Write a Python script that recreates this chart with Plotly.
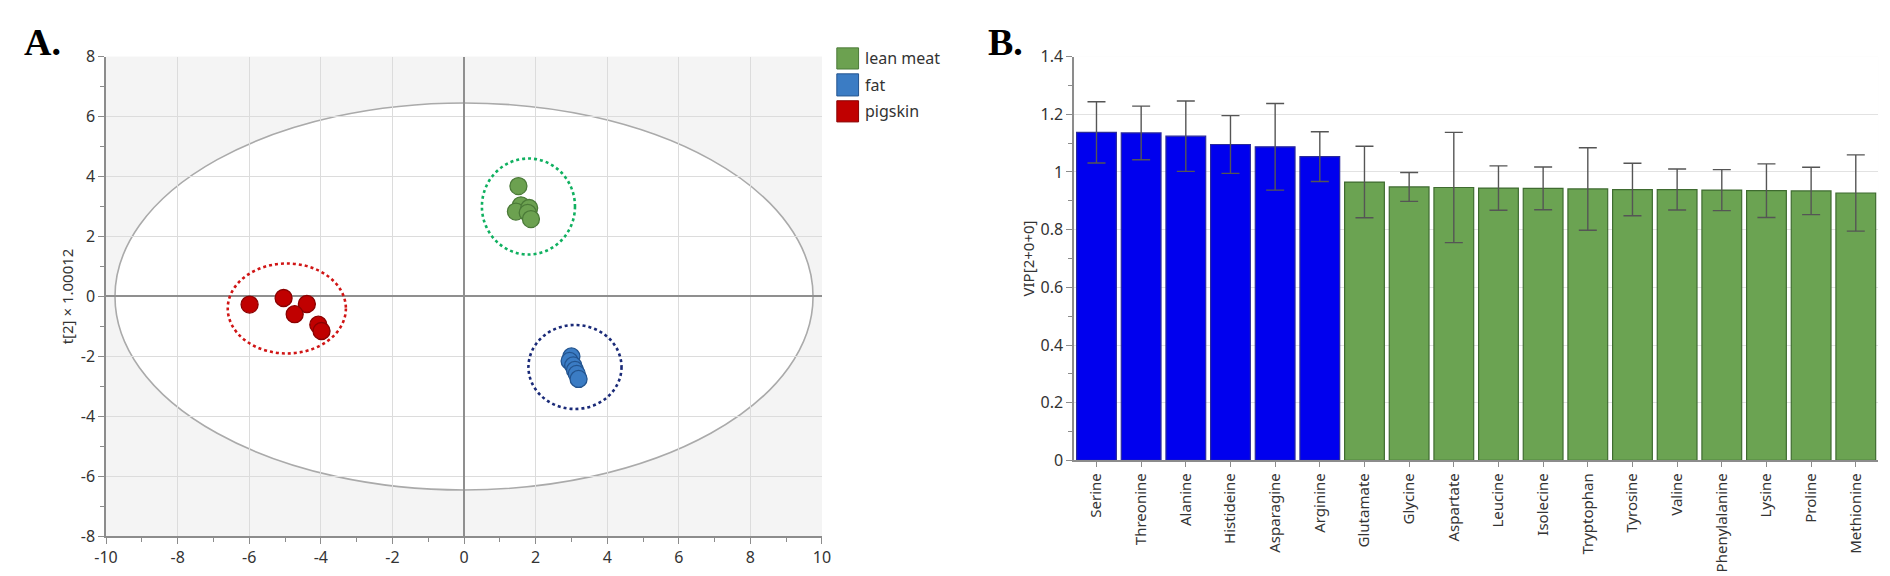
import plotly.graph_objects as go

W, H = 1890, 576

# ---- panel A: score plot -------------------------------------------------
lean_x = [1.52, 1.59, 1.45, 1.82, 1.78, 1.87]
lean_y = [3.68, 3.04, 2.83, 2.95, 2.79, 2.58]
fat_x = [3.00, 2.95, 3.05, 3.10, 3.15, 3.20]
fat_y = [-2.00, -2.15, -2.30, -2.45, -2.58, -2.75]
skin_x = [-5.99, -5.04, -4.39, -4.73, -4.07, -3.98]
skin_y = [-0.27, -0.05, -0.25, -0.59, -0.94, -1.15]

group_names = ["lean meat", "fat", "pigskin"]
group_cx = [1.80, 3.10, -4.95]
group_cy = [3.00, -2.35, -0.40]
group_rx = [1.30, 1.30, 1.65]
group_ry = [1.60, 1.40, 1.50]

t2_rx, t2_ry = 9.75, 6.45

a_ticks = [-10, -8, -6, -4, -2, 0, 2, 4, 6, 8, 10]
a_yticks = [-8, -6, -4, -2, 0, 2, 4, 6, 8]

# ---- panel B: VIP bars ---------------------------------------------------
amino = ["Serine", "Threonine", "Alanine", "Histideine", "Asparagine", "Arginine",
         "Glutamate", "Glycine", "Aspartate", "Leucine", "Isolecine", "Tryptophan",
         "Tyrosine", "Valine", "Phenylalanine", "Lysine", "Proline", "Methionine"]
vip = [1.137, 1.135, 1.124, 1.095, 1.087, 1.053,
       0.965, 0.948, 0.946, 0.944, 0.943, 0.941,
       0.939, 0.939, 0.937, 0.935, 0.934, 0.927]
vip_err = [0.106, 0.093, 0.122, 0.100, 0.150, 0.086,
           0.124, 0.050, 0.191, 0.077, 0.074, 0.143,
           0.091, 0.071, 0.071, 0.093, 0.082, 0.132]
n_blue = 6


def px(p):
    return p / W


def py(p):
    return 1 - p / H


font = "Noto Sans"
axis_col = "#8c8c8c"
txt_col = "#333333"

fills = ["#6ca150", "#3b7cc4", "#c00000"]
edges = ["#4b7a38", "#23548f", "#8a0000"]
ring_cols = ["#10b060", "#1a2a78", "#d01515"]

fig = go.Figure()

for xs, ys, fc, ec, nm in zip([lean_x, fat_x, skin_x], [lean_y, fat_y, skin_y],
                              fills, edges, group_names):
    fig.add_trace(go.Scatter(
        x=xs, y=ys, mode="markers", name=nm,
        marker=dict(size=17, color=fc, line=dict(color=ec, width=1.3)),
        xaxis="x", yaxis="y", showlegend=False
    ))

bar_fill = ["#0000ee"] * n_blue + ["#6ba352"] * (len(amino) - n_blue)
bar_edge = ["#2a2a9a"] * n_blue + ["#3f6b30"] * (len(amino) - n_blue)
fig.add_trace(go.Bar(
    x=amino, y=vip,
    marker=dict(color=bar_fill, line=dict(color=bar_edge, width=1.2)),
    error_y=dict(type="data", array=vip_err, visible=True,
                 color="#555555", thickness=1.4, width=9),
    xaxis="x2", yaxis="y2", showlegend=False
))

# white background for the bar panel (plot_bgcolor is shared)
fig.add_shape(type="rect", xref="x2 domain", yref="y2 domain",
              x0=0, x1=1, y0=0, y1=1, fillcolor="white",
              line=dict(width=0), layer="below")

# Hotelling ellipse (white inside, grey outside)
fig.add_shape(type="circle", xref="x", yref="y",
              x0=-t2_rx, x1=t2_rx, y0=-t2_ry, y1=t2_ry,
              fillcolor="white", line=dict(color="#aaaaaa", width=1.6),
              layer="below")

# dotted group rings
for cx, cy, rx, ry, col in zip(group_cx, group_cy, group_rx, group_ry, ring_cols):
    fig.add_shape(type="circle", xref="x", yref="y",
                  x0=cx - rx, x1=cx + rx, y0=cy - ry, y1=cy + ry,
                  line=dict(color=col, width=2.6, dash="dot"))

# manual legend with square swatches
rows = [(30, 52), (57, 80), (85, 107)]
for (t, b), fc, ec, nm in zip(rows, fills, edges, group_names):
    fig.add_shape(type="rect", xref="paper", yref="paper",
                  x0=px(826), x1=px(848), y0=py(b), y1=py(t),
                  fillcolor=fc, line=dict(color=ec, width=1))
    fig.add_annotation(xref="paper", yref="paper", x=px(852), y=py((t + b) / 2),
                       text=nm, showarrow=False, xanchor="left", yanchor="middle",
                       font=dict(family=font, size=16, color=txt_col))

# panel letters
for lbl, x0 in [("A.", 2), ("B.", 977)]:
    fig.add_annotation(xref="paper", yref="paper", x=px(x0), y=py(0),
                       text=f"<b>{lbl}</b>", showarrow=False,
                       xanchor="left", yanchor="top",
                       font=dict(family="Liberation Serif", size=38, color="black"))

common = dict(showline=True, linecolor=axis_col, linewidth=1.5,
              ticks="outside", tickcolor=axis_col)

fig.update_layout(
    width=W, height=H,
    margin=dict(l=0, r=0, t=0, b=0),
    paper_bgcolor="white",
    plot_bgcolor="#f4f4f4",
    showlegend=False,
    bargap=0.11,
    xaxis=dict(
        domain=[px(87), px(811)], range=[-10, 10], anchor="y",
        tickmode="array", tickvals=a_ticks, ticktext=[str(v) for v in a_ticks],
        showgrid=True, gridcolor="#dcdcdc", gridwidth=1,
        zeroline=True, zerolinecolor="#8f8f8f", zerolinewidth=2,
        minor=dict(tickmode="linear", tick0=0, dtick=1, ticks="outside",
                   ticklen=4, tickcolor=axis_col, showgrid=False),
        ticklen=6, tickfont=dict(family=font, size=16, color=txt_col),
        **common
    ),
    yaxis=dict(
        domain=[py(538), py(39)], range=[-8, 8], anchor="x",
        tickmode="array", tickvals=a_yticks, ticktext=[str(v) for v in a_yticks],
        showgrid=True, gridcolor="#dcdcdc", gridwidth=1,
        zeroline=True, zerolinecolor="#8f8f8f", zerolinewidth=2,
        minor=dict(tickmode="linear", tick0=0, dtick=1, ticks="outside",
                   ticklen=4, tickcolor=axis_col, showgrid=False),
        ticklen=6, tickfont=dict(family=font, size=16, color=txt_col),
        title=dict(text="t[2] × 1.00012", standoff=4,
                   font=dict(family=font, size=15, color=txt_col)),
        **common
    ),
    xaxis2=dict(
        domain=[px(1066), px(1879)], anchor="y2", type="category",
        range=[-0.5, len(amino) - 0.5], tickangle=-90, showgrid=False,
        ticklen=5, tickfont=dict(family=font, size=15, color=txt_col),
        **common
    ),
    yaxis2=dict(
        domain=[py(459), py(39)], anchor="x2", range=[0, 1.4], dtick=0.2,
        showgrid=True, gridcolor="#e2e2e2", zeroline=False,
        minor=dict(dtick=0.1, ticks="outside", ticklen=4, tickcolor=axis_col,
                   showgrid=False),
        ticklen=6, tickfont=dict(family=font, size=16, color=txt_col),
        title=dict(text="VIP[2+0+0]", standoff=2,
                   font=dict(family=font, size=15, color=txt_col)),
        **common
    ),
)

fig.write_html("out.html")
